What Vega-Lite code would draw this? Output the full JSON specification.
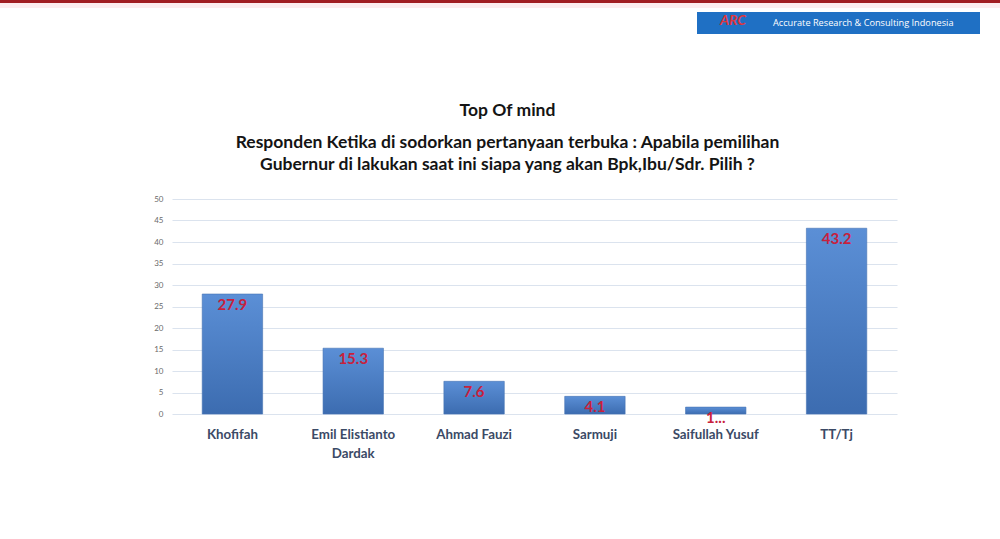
{
  "$schema": "https://vega.github.io/schema/vega-lite/v6.json",
  "padding": 0,
  "spacing": 0,
  "background": "white",
  "config": {"view": {"stroke": null}, "font": "Lato"},
  "vconcat": [
    {
      "width": 828,
      "height": 102,
      "data": {"values": [{}]},
      "layer": [
        {
          "mark": {"type": "rect", "color": "#a11d22"},
          "encoding": {
            "x": {"datum": 0, "type": "quantitative", "scale": {"domain": [172, 1000]}, "axis": null},
            "x2": {"datum": 1000},
            "y": {"datum": 0, "type": "quantitative", "scale": {"domain": [0, 102], "reverse": true}, "axis": null},
            "y2": {"datum": 3}
          }
        },
        {
          "mark": {"type": "rect", "color": "#fdecef"},
          "encoding": {
            "x": {"datum": 0, "type": "quantitative", "scale": {"domain": [172, 1000]}, "axis": null},
            "x2": {"datum": 1000},
            "y": {"datum": 3, "type": "quantitative", "scale": {"domain": [0, 102], "reverse": true}, "axis": null},
            "y2": {"datum": 8}
          }
        },
        {
          "mark": {"type": "rect", "color": "#1f70c4"},
          "encoding": {
            "x": {"datum": 697, "type": "quantitative", "scale": {"domain": [172, 1000]}, "axis": null},
            "x2": {"datum": 980},
            "y": {"datum": 12, "type": "quantitative", "scale": {"domain": [0, 102], "reverse": true}, "axis": null},
            "y2": {"datum": 34}
          }
        },
        {
          "mark": {"type": "text", "text": "ARC", "color": "#e0363c", "fontSize": 14, "fontWeight": "bold", "fontStyle": "italic", "align": "center", "baseline": "middle"},
          "encoding": {
            "x": {"datum": 733, "type": "quantitative", "scale": {"domain": [172, 1000]}, "axis": null},
            "y": {"datum": 21, "type": "quantitative", "scale": {"domain": [0, 102], "reverse": true}, "axis": null}
          }
        },
        {
          "mark": {"type": "text", "text": "Accurate Research & Consulting Indonesia", "color": "white", "fontSize": 9.2, "align": "left", "baseline": "middle", "font": "Open Sans"},
          "encoding": {
            "x": {"datum": 773, "type": "quantitative", "scale": {"domain": [172, 1000]}, "axis": null},
            "y": {"datum": 23, "type": "quantitative", "scale": {"domain": [0, 102], "reverse": true}, "axis": null}
          }
        }
      ]
    },
    {
      "width": 725,
      "height": 215,
      "title": {
        "text": "Top Of mind",
        "subtitle": ["Responden Ketika di sodorkan pertanyaan terbuka : Apabila pemilihan", "Gubernur di  lakukan saat ini siapa yang akan Bpk,Ibu/Sdr. Pilih ?"],
        "fontSize": 17.5,
        "subtitleFontSize": 17.5,
        "fontWeight": "bold",
        "subtitleFontWeight": "bold",
        "color": "#141414",
        "subtitleColor": "#141414",
        "anchor": "middle",
        "frame": "group",
        "dx": -27,
        "offset": 22,
        "subtitlePadding": 14,
        "subtitleLineHeight": 22
      },
      "data": {
        "values": [
          {"candidate": "Khofifah", "value": 27.9, "label": "27.9"},
          {"candidate": "Emil Elistianto Dardak", "value": 15.3, "label": "15.3"},
          {"candidate": "Ahmad Fauzi", "value": 7.6, "label": "7.6"},
          {"candidate": "Sarmuji", "value": 4.1, "label": "4.1"},
          {"candidate": "Saifullah Yusuf", "value": 1.6, "label": "1..."},
          {"candidate": "TT/Tj", "value": 43.2, "label": "43.2"}
        ]
      },
      "encoding": {
        "x": {
          "field": "candidate",
          "type": "nominal",
          "sort": null,
          "scale": {"paddingInner": 0.5, "paddingOuter": 0.25},
          "axis": {
            "title": null,
            "labelAngle": 0,
            "domain": false,
            "ticks": false,
            "labelFontSize": 13.3,
            "labelFontWeight": "bold",
            "labelColor": "#3b4a66",
            "labelPadding": 13,
            "labelLineHeight": 19,
            "labelExpr": "datum.label == 'Emil Elistianto Dardak' ? ['Emil Elistianto', 'Dardak'] : datum.label"
          }
        },
        "y": {
          "field": "value",
          "type": "quantitative",
          "scale": {"domain": [0, 50]},
          "axis": {
            "title": null,
            "values": [0, 5, 10, 15, 20, 25, 30, 35, 40, 45, 50],
            "domain": false,
            "ticks": false,
            "labelFontSize": 8,
            "labelColor": "#6a6a6a",
            "labelPadding": 9,
            "gridColor": "#dbe3ee",
            "gridWidth": 1
          }
        }
      },
      "layer": [
        {
          "mark": {
            "type": "bar",
            "stroke": "#4673b4",
            "strokeWidth": 0.6,
            "color": {
              "gradient": "linear",
              "x1": 0, "y1": 0, "x2": 0, "y2": 1,
              "stops": [
                {"offset": 0, "color": "#5b8fd6"},
                {"offset": 1, "color": "#3c6cb0"}
              ]
            }
          }
        },
        {
          "mark": {"type": "text", "baseline": "top", "dy": 4, "color": "#c8203c", "fontSize": 15, "fontWeight": "bold"},
          "encoding": {"text": {"field": "label"}}
        }
      ]
    }
  ]
}
